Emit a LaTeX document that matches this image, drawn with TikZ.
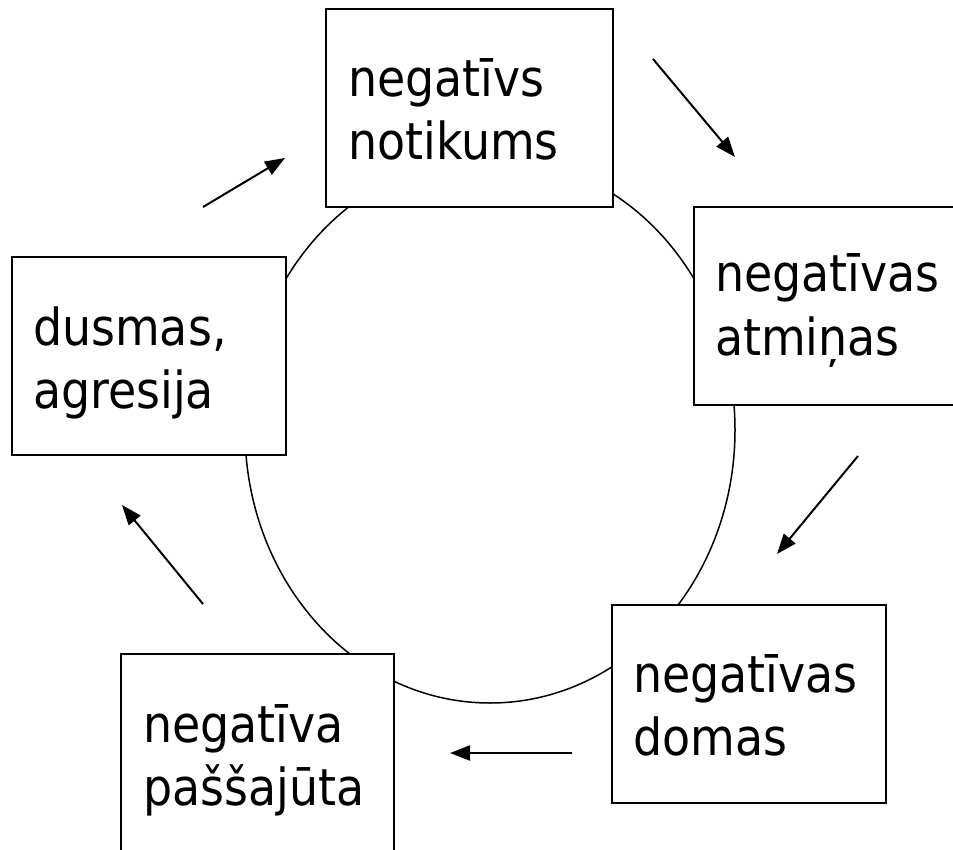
\documentclass[tikz,border=0pt]{standalone}
\usepackage{fontspec}
\setmainfont{DejaVu Sans Condensed}
\usetikzlibrary{arrows.meta}
\begin{document}
\begin{tikzpicture}[x=1pt,y=-1pt,
  stepbox/.style={draw=black,line width=2pt,fill=white,minimum width=#1,minimum height=198pt,inner sep=0pt},
  lbl/.style={anchor=base west,inner sep=0pt,align=left,text width=260pt,
    font=\fontsize{51}{63}\selectfont},
  flow/.style={line width=2pt,-{Triangle[length=20pt,width=15pt]}}]
\useasboundingbox (0,0) rectangle (953,850);
\clip (0,0) rectangle (953,850);
\fill[white] (0,0) rectangle (953,850);
\draw[line width=1.5pt] (490,430) ellipse [x radius=245, y radius=273];
% boxes
\node[stepbox=287pt] (b1) at (469.5,108) {};
\node[stepbox=281pt] (b2) at (834.5,306) {};
\node[stepbox=274pt] (b3) at (749,704) {};
\node[stepbox=273pt] (b4) at (257.5,753) {};
\node[stepbox=274pt] (b5) at (149,356) {};
% texts
\node[lbl] (t1) at (348,97) {negatīvs\\notikums};
\node[lbl] (t2) at (715,292) {negatīvas\\atmiņas};
\node[lbl] (t3) at (633,692) {negatīvas\\domas};
\node[lbl] (t4) at (143,742) {negatīva\\paššajūta};
\node[lbl] (t5) at (33,345) {dusmas,\\agresija};
% arrows
\coordinate (a1s) at (653,59);  \coordinate (a1e) at (735,157);
\coordinate (a2s) at (858,456); \coordinate (a2e) at (777,554);
\coordinate (a3s) at (572,753); \coordinate (a3e) at (450,753);
\coordinate (a4s) at (203,604); \coordinate (a4e) at (122,505);
\coordinate (a5s) at (203,207); \coordinate (a5e) at (285,158);
\draw[flow] (a1s) -- (a1e);
\draw[flow] (a2s) -- (a2e);
\draw[flow] (a3s) -- (a3e);
\draw[flow] (a4s) -- (a4e);
\draw[flow] (a5s) -- (a5e);
\end{tikzpicture}
\end{document}
